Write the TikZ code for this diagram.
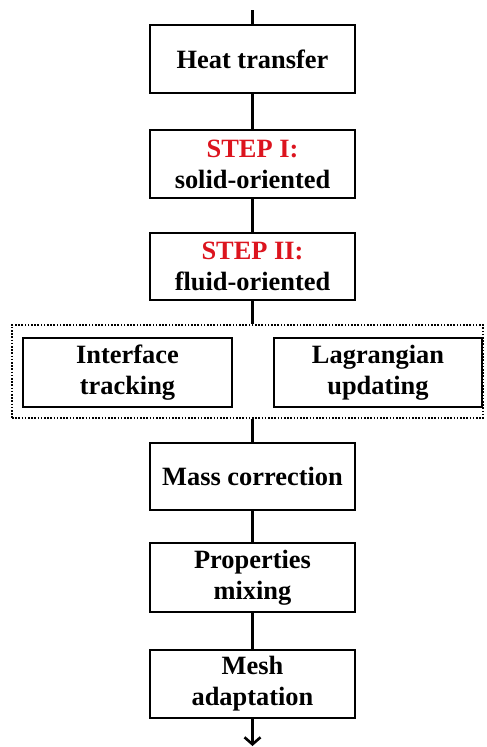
\documentclass[tikz,border=0pt]{standalone}
\usepackage{fontspec}
\setmainfont{Liberation Serif}
\usetikzlibrary{arrows.meta}
\definecolor{stepred}{RGB}{220,20,30}
\tikzset{
  flowbox/.style={draw=black, line width=2.6pt, rectangle, align=center,
    font=\fontsize{26.4}{31}\selectfont\bfseries, inner sep=0pt},
  mainbox/.style={flowbox, minimum width=205pt, minimum height=68pt},
  sidebox/.style={flowbox, minimum width=208pt, minimum height=69pt},
  groupbox/.style={draw=black, line width=2.2pt, dash pattern=on 1.6pt off 1.6pt, rectangle,
    minimum width=471pt, minimum height=93pt, inner sep=0pt},
  link/.style={line width=2.6pt, draw=black},
}
\begin{document}
\begin{tikzpicture}[x=1pt,y=-1pt]
\useasboundingbox (0,0) rectangle (487,747);
\node[mainbox] (heat) at (252.5,59) {Heat transfer};
\node[mainbox] (s1) at (252.5,164) {\textcolor{stepred}{STEP I:}\\solid-oriented};
\node[mainbox, minimum height=67pt] (s2) at (252.5,266.5) {\textcolor{stepred}{STEP II:}\\fluid-oriented};
\node[groupbox] (grp) at (247.5,371.5) {};
\node[sidebox, minimum width=209pt] (itr) at (127.5,372.5) {Interface\\tracking};
\node[sidebox] (lag) at (378,372.5) {Lagrangian\\updating};
\node[mainbox, minimum height=67pt] (mass) at (252.5,476.5) {Mass correction};
\node[mainbox, minimum height=69pt] (prop) at (252.5,577.5) {Properties\\mixing};
\node[mainbox] (mesh) at (252.5,684) {Mesh\\adaptation};
\coordinate (top) at (252.5,10);
\coordinate (bot) at (252.5,746);
\draw[link] (top) -- (heat.north);
\draw[link] (heat.south) -- (s1.north);
\draw[link] (s1.south) -- (s2.north);
\draw[link] (s2.south) -- (s2.south |- grp.north);
\draw[link] (mass.north |- grp.south) -- (mass.north);
\draw[link] (mass.south) -- (prop.north);
\draw[link] (prop.south) -- (mesh.north);
\draw[link, -{Straight Barb[length=7pt,width=16pt,line width=2.6pt]}] (mesh.south) -- (bot);
\end{tikzpicture}
\end{document}
